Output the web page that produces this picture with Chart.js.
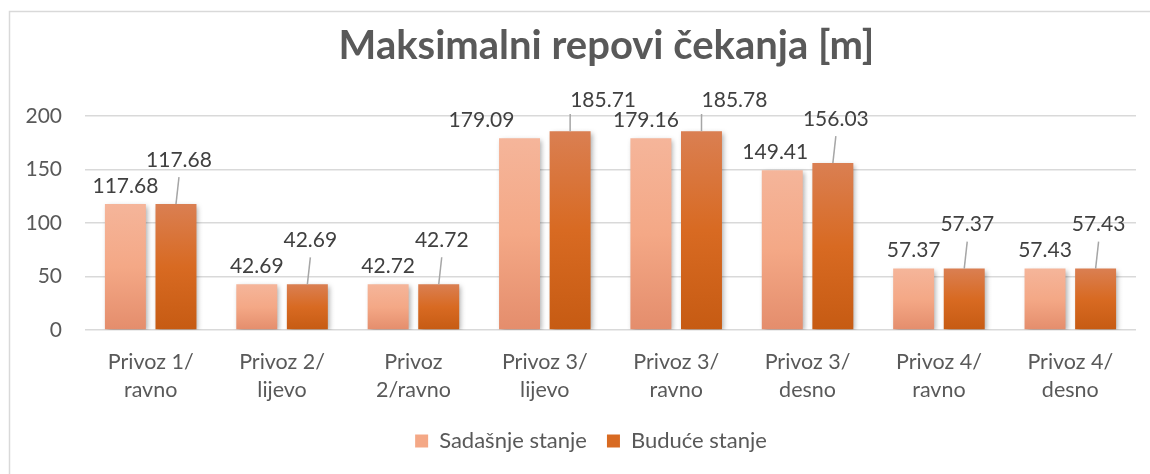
<!DOCTYPE html>
<html>
<head>
<meta charset="utf-8">
<script src="https://cdn.jsdelivr.net/npm/chart.js@4.4.1/dist/chart.umd.min.js"></script>
<style>
  html, body { margin: 0; padding: 0; background: #ffffff; }
  #wrap { width: 1150px; height: 474px; position: relative; }
</style>
</head>
<body>
<div id="wrap"><canvas id="c" width="1150" height="474"></canvas></div>
<script>
// ---- data ----
const categories = [
  ['Privoz 1/', 'ravno'],
  ['Privoz 2/', 'lijevo'],
  ['Privoz', '2/ravno'],
  ['Privoz 3/', 'lijevo'],
  ['Privoz 3/', 'ravno'],
  ['Privoz 3/', 'desno'],
  ['Privoz 4/', 'ravno'],
  ['Privoz 4/', 'desno']
];
const seriesNames = ['Sadašnje stanje', 'Buduće stanje'];
const sadasnje = [117.68, 42.69, 42.72, 179.09, 179.16, 149.41, 57.37, 57.43];
const buduce   = [117.68, 42.69, 42.72, 185.71, 185.78, 156.03, 57.37, 57.43];
const yTicks = [0, 50, 100, 150, 200];
const titleText = 'Maksimalni repovi čekanja [m]';

// ---- styles ----
const FONT = 'Lato';
const TEXT = '#595959';
const LABEL = '#404040';
const GRID = '#D9D9D9';
const sStops = [[0, '#F5B59A'], [0.5, '#F4A886'], [1, '#E48D6C']];
const bStops = [[0, '#DA7F52'], [0.5, '#D86A22'], [1, '#C65B13']];

function barGradient(stops) {
  return function (ctx) {
    const chart = ctx.chart;
    if (!chart.chartArea || ctx.type !== 'data' || !chart.scales.y) return stops[1][1];
    const ys = chart.scales.y;
    const top = ys.getPixelForValue(ctx.raw);
    const bottom = ys.getPixelForValue(0);
    if (!isFinite(top) || !isFinite(bottom) || bottom - top < 1) return stops[1][1];
    const g = chart.ctx.createLinearGradient(0, top, 0, bottom);
    stops.forEach(s => g.addColorStop(s[0], s[1]));
    return g;
  };
}

const frame = {
  id: 'frame',
  beforeDraw(chart) {
    const c = chart.ctx;
    c.save();
    c.fillStyle = '#ffffff';
    c.fillRect(0, 0, chart.width, chart.height);
    c.strokeStyle = GRID;
    c.lineWidth = 1.5;
    c.beginPath();
    c.moveTo(9.5, chart.height);
    c.lineTo(9.5, 11.5);
    c.lineTo(chart.width, 11.5);
    c.stroke();
    c.restore();
  }
};

// shift the legend so it is centred like the original (slightly right of the canvas centre)
const legendShift = {
  id: 'legendShift',
  afterLayout(chart, args, opts) {
    if (chart.legend) chart.legend.left += opts.shift;
  }
};

const titlePlugin = {
  id: 'plotTitle',
  afterDraw(chart, args, opts) {
    const c = chart.ctx;
    const a = chart.chartArea;
    c.save();
    c.font = 'bold 40px ' + FONT;
    c.fillStyle = TEXT;
    c.textAlign = 'center';
    c.textBaseline = 'alphabetic';
    c.fillText(opts.text, (a.left + a.right) / 2 - 4, 59);
    c.restore();
  }
};

const shadow = {
  id: 'barShadow',
  beforeDatasetDraw(chart) {
    const c = chart.ctx;
    c.save();
    c.shadowColor = 'rgba(0,0,0,0.32)';
    c.shadowBlur = 5;
    c.shadowOffsetX = 2;
    c.shadowOffsetY = 2;
  },
  afterDatasetDraw(chart) {
    chart.ctx.restore();
  }
};

const dataLabels = {
  id: 'dataLabels',
  afterDatasetsDraw(chart, args, opts) {
    const c = chart.ctx;
    c.save();
    c.font = '21px ' + FONT;
    c.fillStyle = LABEL;
    c.textAlign = 'center';
    c.textBaseline = 'middle';
    const m0 = chart.getDatasetMeta(0);
    const m1 = chart.getDatasetMeta(1);
    m0.data.forEach((bar, i) => {
      const v = chart.data.datasets[0].data[i];
      const x = bar.x + (opts.sNudge[i] || 0);
      c.fillText(v.toFixed(2), x, bar.y - 18);
    });
    m1.data.forEach((bar, i) => {
      const v = chart.data.datasets[1].data[i];
      const txt = v.toFixed(2);
      const w = c.measureText(txt).width;
      let y = bar.y - 44;
      let x = bar.x + 3;
      let endX, endY;
      if (y < opts.minY) {
        y = opts.minY;
        x = bar.x + 33;
        endX = Math.max(x - w / 2, Math.min(bar.x, x + w / 2));
        endY = y + 14;
      } else {
        endX = x;
        endY = y + 17;
      }
      c.fillText(txt, x, y);
      c.save();
      c.strokeStyle = '#A6A6A6';
      c.lineWidth = 1.5;
      c.beginPath();
      c.moveTo(bar.x, bar.y);
      c.lineTo(endX, endY);
      c.stroke();
      c.restore();
    });
    c.restore();
  }
};

function build() {
  new Chart(document.getElementById('c'), {
    type: 'bar',
    data: {
      labels: categories,
      datasets: [
        { label: seriesNames[0], data: sadasnje, backgroundColor: barGradient(sStops), borderWidth: 0 },
        { label: seriesNames[1], data: buduce, backgroundColor: barGradient(bStops), borderWidth: 0 }
      ]
    },
    options: {
      responsive: false,
      animation: false,
      devicePixelRatio: 1,
      datasets: { bar: { barPercentage: 0.81, categoryPercentage: 0.77 } },
      layout: { padding: { left: 0, right: 14, top: 116, bottom: 12 } },
      scales: {
        x: {
          grid: { display: false, drawTicks: false },
          border: { display: false },
          ticks: { color: TEXT, font: { family: FONT, size: 21.5, lineHeight: 1.3 }, padding: 18, maxRotation: 0, autoSkip: false },
          afterFit(scale) { scale.height = 80; }
        },
        y: {
          min: 0, max: 200,
          afterBuildTicks(scale) { scale.ticks = yTicks.map(v => ({ value: v })); },
          grid: { color: GRID, lineWidth: 1.5, drawTicks: false },
          border: { display: false },
          ticks: { color: TEXT, font: { family: FONT, size: 21 }, padding: 23 },
          afterFit(scale) { scale.width = 85; }
        }
      },
      plugins: {
        title: { display: false },
        plotTitle: { text: titleText },
        legendShift: { shift: 46 },
        legend: {
          position: 'bottom',
          labels: {
            color: TEXT, font: { family: FONT, size: 22 }, boxWidth: 13, boxHeight: 13, padding: 20,
            generateLabels(chart) {
              return chart.data.datasets.map((d, i) => ({
                text: d.label, fillStyle: (i === 0 ? sStops : bStops)[1][1],
                strokeStyle: 'rgba(0,0,0,0)', lineWidth: 0, datasetIndex: i, fontColor: TEXT
              }));
            }
          }
        },
        tooltip: { enabled: false },
        dataLabels: { minY: 100, sNudge: [0, 0, 0, -38, -5, -7, 0, 0] }
      }
    },
    plugins: [frame, legendShift, shadow, dataLabels, titlePlugin]
  });
}

const fontLoads = [
  document.fonts.load('21px Lato'),
  document.fonts.load('bold 40px Lato'),
  document.fonts.load('22px Lato')
];
Promise.race([Promise.all(fontLoads), new Promise(r => setTimeout(r, 800))]).then(build, build);
</script>
</body>
</html>
